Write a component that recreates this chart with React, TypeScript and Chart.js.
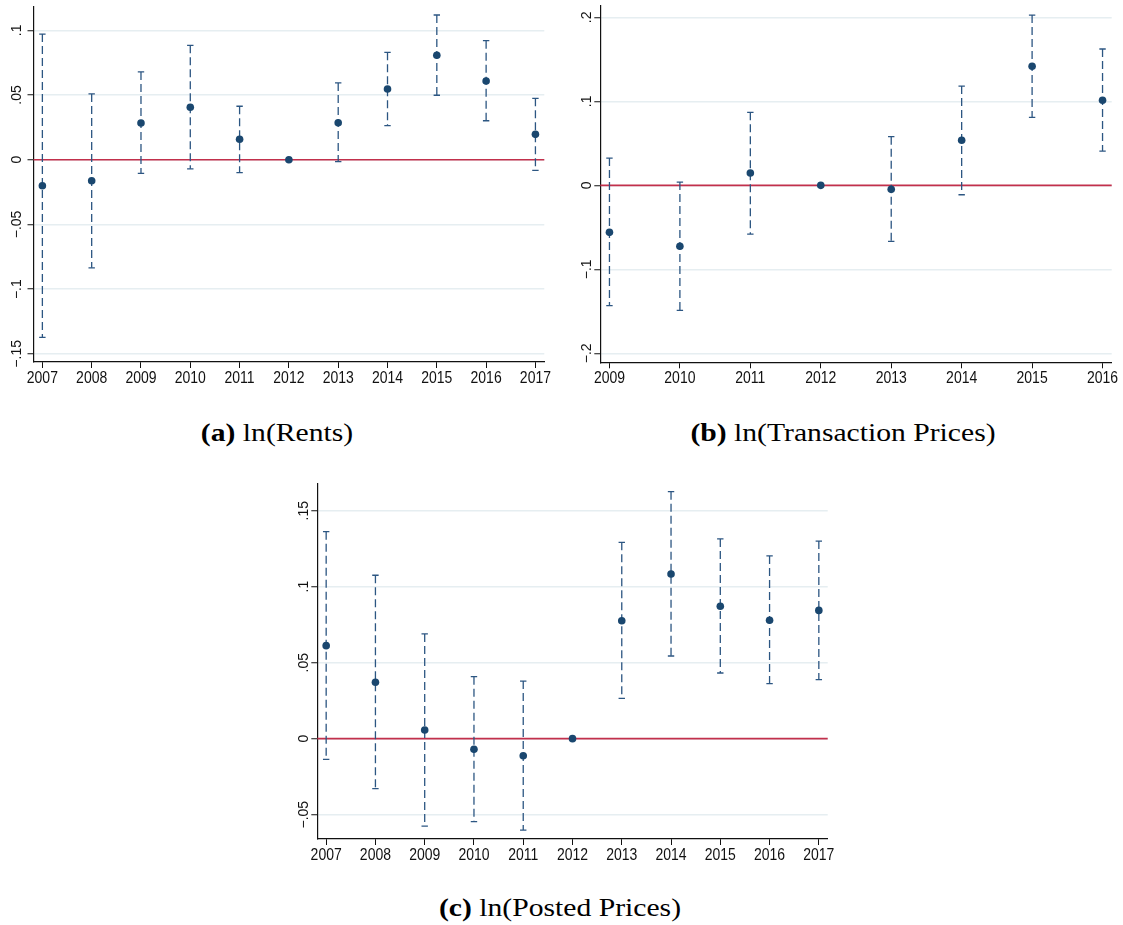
import React, { useEffect, useRef } from "react";
import { Chart, registerables } from "chart.js";
Chart.register(...registerables);

// ---------- (a) ln(Rents) ----------
const rentYears = [2007, 2008, 2009, 2010, 2011, 2012, 2013, 2014, 2015, 2016, 2017];
const rentCoef = [-0.0201, -0.0162, 0.0284, 0.0405, 0.0158, 0, 0.0286, 0.0546, 0.0807, 0.0608, 0.0196];
const rentLower = [-0.1373, -0.0835, -0.0105, -0.007, -0.01, null, -0.0015, 0.0263, 0.0498, 0.0301, -0.0082];
const rentUpper = [0.0971, 0.0508, 0.0678, 0.0884, 0.0413, null, 0.0593, 0.083, 0.1118, 0.092, 0.0474];
const rentYTicks = [-0.15, -0.1, -0.05, 0, 0.05, 0.1];
const rentYTickLabels = ["\u2212.15", "\u2212.1", "\u2212.05", "0", ".05", ".1"];

// ---------- (b) ln(Transaction Prices) ----------
const txYears = [2009, 2010, 2011, 2012, 2013, 2014, 2015, 2016];
const txCoef = [-0.056, -0.0726, 0.0146, 0, -0.0048, 0.0536, 0.1417, 0.1012];
const txLower = [-0.1433, -0.1488, -0.058, null, -0.0667, -0.0112, 0.081, 0.0408];
const txUpper = [0.0325, 0.0039, 0.0869, null, 0.0579, 0.1182, 0.2027, 0.1623];
const txYTicks = [-0.2, -0.1, 0, 0.1, 0.2];
const txYTickLabels = ["\u2212.2", "\u2212.1", "0", ".1", ".2"];

// ---------- (c) ln(Posted Prices) ----------
const postYears = [2007, 2008, 2009, 2010, 2011, 2012, 2013, 2014, 2015, 2016, 2017];
const postCoef = [0.0612, 0.0371, 0.0057, -0.007, -0.0112, 0, 0.0776, 0.1083, 0.0871, 0.0779, 0.0844];
const postLower = [-0.0136, -0.0329, -0.0575, -0.0546, -0.0601, null, 0.0265, 0.0544, 0.0432, 0.0362, 0.0388];
const postUpper = [0.1362, 0.1075, 0.0689, 0.0408, 0.0379, null, 0.1292, 0.1625, 0.1314, 0.1202, 0.13];
const postYTicks = [-0.05, 0, 0.05, 0.1, 0.15];
const postYTickLabels = ["\u2212.05", "0", ".05", ".1", ".15"];

const POINT_COLOR = "#1a476f";
const BAR_COLOR = "#2c5682";
const ZERO_COLOR = "#c2304c";
const GRID_COLOR = "#e6eef1";
const AXIS_COLOR = "#111111";
const TEXT_COLOR = "#111111";
const TICK_FONT = '14px "Liberation Sans", Arial, Helvetica, sans-serif';
const X_STRETCH = 1.15;
const Y_STRETCH = 1.0;

type PanelProps = {
  years: number[];
  coef: number[];
  lower: (number | null)[];
  upper: (number | null)[];
  yTicks: number[];
  yTickLabels: string[];
  xMin: number;
  xMax: number;
  yMin: number;
  yMax: number;
  left: number;
  top: number;
  width: number;
  height: number;
  yAxisW: number;
  padR: number;
  padT: number;
  xAxisH: number;
  yLabelGap: number;
};

function Panel(p: PanelProps) {
  const ref = useRef<HTMLCanvasElement | null>(null);
  useEffect(() => {
    const canvas = ref.current;
    if (!canvas) return;
    const decor = {
      id: "decor",
      beforeDatasetsDraw(chart: any) {
        const { ctx, chartArea, scales } = chart;
        const xs = scales.x;
        const ys = scales.y;
        ctx.save();
        const y0 = ys.getPixelForValue(0);
        ctx.strokeStyle = ZERO_COLOR;
        ctx.lineWidth = 1.6;
        ctx.beginPath();
        ctx.moveTo(chartArea.left, y0);
        ctx.lineTo(chartArea.right, y0);
        ctx.stroke();
        ctx.strokeStyle = BAR_COLOR;
        ctx.lineWidth = 1.3;
        p.years.forEach((yr, i) => {
          const lo = p.lower[i];
          const hi = p.upper[i];
          if (lo == null || hi == null) return;
          const x = xs.getPixelForValue(yr);
          const yl = ys.getPixelForValue(lo);
          const yu = ys.getPixelForValue(hi);
          ctx.setLineDash([8, 4]);
          ctx.beginPath();
          ctx.moveTo(x, yu);
          ctx.lineTo(x, yl);
          ctx.stroke();
          ctx.setLineDash([]);
          ctx.beginPath();
          ctx.moveTo(x - 3.2, yu);
          ctx.lineTo(x + 3.2, yu);
          ctx.moveTo(x - 3.2, yl);
          ctx.lineTo(x + 3.2, yl);
          ctx.stroke();
        });
        ctx.restore();
      },
      afterDraw(chart: any) {
        const { ctx, chartArea, scales } = chart;
        const xs = scales.x;
        const ys = scales.y;
        ctx.save();
        ctx.font = TICK_FONT;
        ctx.fillStyle = TEXT_COLOR;
        ctx.textAlign = "center";
        ctx.textBaseline = "alphabetic";
        p.years.forEach((yr) => {
          const x = xs.getPixelForValue(yr);
          const yc = chartArea.bottom + 14.8;
          ctx.save();
          ctx.translate(x, yc);
          ctx.scale(1, X_STRETCH);
          ctx.fillText(String(yr), 0, 0.358 * 14);
          ctx.restore();
        });
        p.yTicks.forEach((v, i) => {
          const y = ys.getPixelForValue(v);
          const x = chartArea.left - p.yLabelGap;
          ctx.save();
          ctx.translate(x, y);
          ctx.rotate(-Math.PI / 2);
          ctx.scale(Y_STRETCH, 1);
          ctx.fillText(p.yTickLabels[i], 0, 0);
          ctx.restore();
        });
        ctx.restore();
      },
    };

    const chart = new Chart(canvas, {
      type: "scatter",
      data: {
        datasets: [
          {
            data: p.years.map((yr, i) => ({ x: yr, y: p.coef[i] })),
            backgroundColor: POINT_COLOR,
            borderWidth: 0,
            pointRadius: 3.8,
            pointHoverRadius: 3.8,
            showLine: false,
          },
        ],
      },
      options: {
        responsive: false,
        animation: false,
        devicePixelRatio: 1,
        layout: { padding: { left: 0, right: p.padR, top: p.padT, bottom: 0 } },
        plugins: { legend: { display: false }, tooltip: { enabled: false } },
        events: [],
        scales: {
          x: {
            type: "linear",
            min: p.xMin,
            max: p.xMax,
            afterBuildTicks: (s: any) => {
              s.ticks = p.years.map((v) => ({ value: v }));
            },
            afterFit: (s: any) => {
              s.height = p.xAxisH;
            },
            ticks: { display: false },
            grid: {
              drawOnChartArea: false,
              drawTicks: true,
              tickLength: 6,
              tickColor: AXIS_COLOR,
              tickWidth: 1,
            },
            border: { display: true, color: AXIS_COLOR, width: 1.2 },
          },
          y: {
            type: "linear",
            min: p.yMin,
            max: p.yMax,
            afterBuildTicks: (s: any) => {
              s.ticks = p.yTicks.map((v) => ({ value: v }));
            },
            afterFit: (s: any) => {
              s.width = p.yAxisW;
            },
            ticks: { display: false },
            grid: {
              drawOnChartArea: true,
              color: GRID_COLOR,
              lineWidth: 1.5,
              drawTicks: true,
              tickLength: 6,
              tickColor: AXIS_COLOR,
              tickWidth: 1,
            },
            border: { display: true, color: AXIS_COLOR, width: 1.2 },
          },
        },
      },
      plugins: [decor],
    } as any);
    return () => chart.destroy();
  }, []);
  return (
    <canvas
      ref={ref}
      width={p.width}
      height={p.height}
      style={{ position: "absolute", left: p.left, top: p.top, width: p.width, height: p.height, display: "block" }}
    />
  );
}

const captionStyle = (cx: number, cy: number): React.CSSProperties => ({
  position: "absolute",
  left: cx,
  top: cy,
  transform: "translate(-50%, -50%) scaleX(1.14)",
  whiteSpace: "nowrap",
  fontFamily: '"Liberation Serif", "Times New Roman", serif',
  fontSize: 26,
  lineHeight: "30px",
  color: "#000",
});

export default function App() {
  return (
    <div style={{ position: "absolute", left: 0, top: 0, width: 1123, height: 925, background: "#fff", overflow: "hidden" }}>
      <Panel
        years={rentYears}
        coef={rentCoef}
        lower={rentLower}
        upper={rentUpper}
        yTicks={rentYTicks}
        yTickLabels={rentYTickLabels}
        xMin={2006.82}
        xMax={2017.18}
        yMin={-0.1563}
        yMax={0.118}
        left={0}
        top={0}
        width={560}
        height={395}
        yAxisW={33.5}
        padR={15.7}
        padT={7}
        xAxisH={33}
        yLabelGap={13}
      />
      <Panel
        years={txYears}
        coef={txCoef}
        lower={txLower}
        upper={txUpper}
        yTicks={txYTicks}
        yTickLabels={txYTickLabels}
        xMin={2008.87}
        xMax={2016.13}
        yMin={-0.2107}
        yMax={0.2135}
        left={562}
        top={0}
        width={561}
        height={395}
        yAxisW={38.3}
        padR={11.3}
        padT={6}
        xAxisH={32.7}
        yLabelGap={9}
      />
      <Panel
        years={postYears}
        coef={postCoef}
        lower={postLower}
        upper={postUpper}
        yTicks={postYTicks}
        yTickLabels={postYTickLabels}
        xMin={2006.82}
        xMax={2017.18}
        yMin={-0.066}
        yMax={0.168}
        left={270}
        top={470}
        width={580}
        height={400}
        yAxisW={47.3}
        padR={22.3}
        padT={13.3}
        xAxisH={31}
        yLabelGap={9}
      />
      <div style={captionStyle(277, 433)}>
        <b>(a)</b> ln(Rents)
      </div>
      <div style={captionStyle(843, 433)}>
        <b>(b)</b> ln(Transaction Prices)
      </div>
      <div style={captionStyle(560, 908)}>
        <b>(c)</b> ln(Posted Prices)
      </div>
    </div>
  );
}
